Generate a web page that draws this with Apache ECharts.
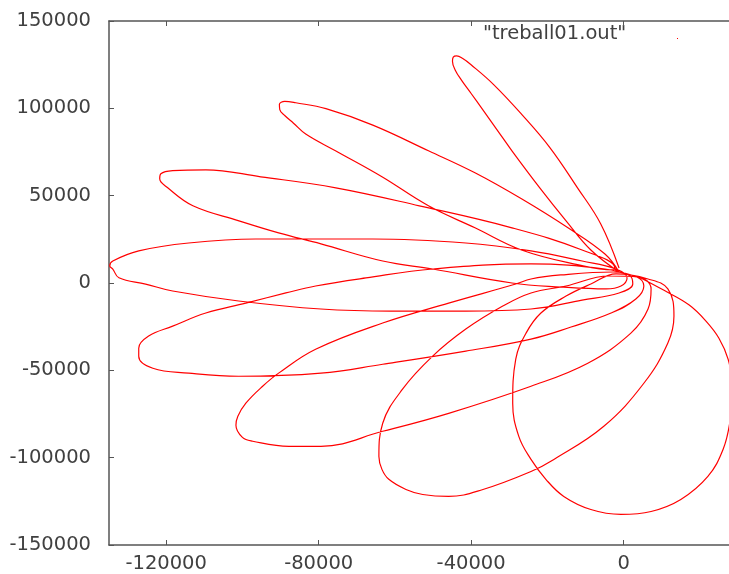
<!DOCTYPE html>
<html>
<head>
<meta charset="utf-8">
<script src="https://cdn.jsdelivr.net/npm/echarts@6/dist/echarts.min.js"></script>
<style>
	html, body { margin: 0; padding: 0; background: #fff; }
	#chart { width: 729px; height: 574px; }
</style>
</head>
<body>
<div id="chart"></div>
<script>
// 刻度
var xTicks = [-120000, -80000, -40000, 0]
var seriesName = '"treball01.out"'

// 轨道的每一瓣 [x, y]
var petal1 = [[-1200, 8600], [-6000, 33800], [-12100, 54500], [-19400, 77700], [-26800, 96700], [-34100, 113600], [-40100, 125100], [-42200, 128500], [-43800, 130000], [-44700, 129300], [-44900, 127000], [-44200, 122000], [-42500, 116000], [-40000, 108500], [-37200, 100000], [-33300, 88000], [-29300, 75700], [-22000, 54500], [-15100, 35600], [-8600, 18900], [-1200, 6300]]
var petal2 = [[-4900, 16600], [-14600, 31600], [-26800, 48200], [-39000, 63100], [-51200, 75700], [-65800, 90400], [-78100, 99800], [-86000, 103200], [-88900, 104000], [-90300, 102300], [-90200, 99300], [-88900, 95900], [-86600, 91500], [-83400, 85300], [-75600, 75700], [-63400, 60800], [-51200, 44200], [-39000, 31600], [-26800, 18900], [-12100, 10500], [-2800, 7500]]
var petal3 = [[-2300, 8600], [-10900, 18900], [-29300, 31600], [-53600, 44200], [-75500, 54500], [-95200, 60800], [-109600, 64800], [-118300, 64300], [-121400, 62500], [-121700, 59700], [-119600, 54500], [-113000, 44200], [-100900, 35600], [-90500, 28700], [-79400, 22400], [-63200, 12600], [-50100, 8000], [-29300, 0], [-16500, -2300], [-4600, -3400], [-700, -1700], [900, 2900]]
var petal4 = [[-2000, 8000], [-10900, 12600], [-24300, 18400], [-41400, 22900], [-65800, 25200], [-84200, 25200], [-96500, 25200], [-114100, 22900], [-127200, 18400], [-134000, 12600], [-134800, 9800], [-134000, 8000], [-132400, 3000], [-125400, -600], [-118300, -4600], [-101000, -10300], [-79400, -14900], [-61000, -16100], [-41400, -16100], [-24300, -14900], [-10900, -9800], [-1200, -5700], [2400, -600], [1700, 4000]]
var petal5 = [[-4900, 8000], [-24300, 10900], [-50100, 8000], [-67600, 2900], [-80800, -1700], [-88600, -5700], [-99100, -11500], [-109600, -17200], [-118300, -24700], [-124600, -30400], [-127200, -37300], [-127200, -41900], [-123500, -48800], [-114100, -51600], [-101000, -53400], [-79400, -51600], [-63200, -46500], [-41400, -39000], [-24300, -32100], [-13800, -25200], [-3300, -17200], [3200, -9200], [5300, -1700], [3500, 3400]]
var petal6 = [[-2800, 6300], [-16500, 4600], [-24300, 2300], [-28300, -600], [-45900, -11500], [-63200, -22900], [-80800, -37900], [-90500, -51600], [-94700, -59100], [-99100, -68800], [-101200, -76300], [-101700, -81500], [-100000, -88400], [-97300, -90600], [-87800, -93500], [-79400, -93500], [-63200, -84900], [-45900, -74600], [-24300, -59100], [-9400, -45900], [1900, -28700], [6400, -14900], [7200, -3400], [4000, 3400]]
var petal7 = [[-3900, 4000], [-15100, -1700], [-24300, -5700], [-31700, -13200], [-41400, -26400], [-50100, -41900], [-58000, -60800], [-63200, -80300], [-64200, -99300], [-63400, -106700], [-61600, -112400], [-57100, -118200], [-52700, -121100], [-45900, -122200], [-36900, -118200], [-24300, -107900], [-18300, -101000], [-5200, -82000], [5300, -57400], [11600, -34400], [13200, -18900], [11600, -3400], [6400, 2300]]
var petal8 = [[-2000, 5200], [-8600, -600], [-15100, -7500], [-21700, -17200], [-25600, -28700], [-28300, -43600], [-29100, -68800], [-27500, -87800], [-24300, -101000], [-20400, -112400], [-15700, -122200], [-8600, -129700], [-700, -132500], [7200, -130800], [15000, -123900], [22100, -110700], [26100, -95200], [27900, -79200], [28600, -59100], [27400, -43600], [25000, -31600], [21600, -21800], [17200, -12600], [10600, -4200], [4500, 2900]]

var orbit = [].concat(petal1, petal2, petal3, petal4, petal5, petal6, petal7, petal8)

var font = 'DejaVu Sans'
var textColor = '#404040'
var axisColor = '#555'

var myChart = echarts.init(document.getElementById('chart'))
myChart.setOption({
	animation: false,
	grid: { left: 109, top: 21, width: 629, height: 524, containLabel: false, outerBoundsMode: 'none' },
	xAxis: [
		{
			type: 'value',
			position: 'bottom',
			min: -135000,
			max: 30000,
			splitLine: { show: false },
			axisLine: { onZero: false, lineStyle: { color: axisColor, width: 1.5 } },
			axisTick: { inside: true, length: 5, customValues: xTicks, lineStyle: { color: axisColor } },
			axisLabel: {
				customValues: xTicks,
				margin: 9,
				fontSize: 19.5,
				fontFamily: font,
				color: textColor,
				formatter: function (v) { return String(v) }
			}
		},
		{
			type: 'value',
			position: 'top',
			min: -135000,
			max: 30000,
			splitLine: { show: false },
			axisLine: { onZero: false, lineStyle: { color: axisColor, width: 1.5 } },
			axisTick: { inside: true, length: 5, customValues: xTicks, lineStyle: { color: axisColor } },
			axisLabel: { show: false }
		}
	],
	yAxis: {
		type: 'value',
		min: -150000,
		max: 150000,
		interval: 50000,
		splitLine: { show: false },
		axisLine: { onZero: false, lineStyle: { color: axisColor, width: 1.5 } },
		axisTick: { inside: true, length: 5, lineStyle: { color: axisColor } },
		axisLabel: {
			margin: 18,
			fontSize: 19.5,
			fontFamily: font,
			color: textColor,
			formatter: function (v) { return String(v) }
		}
	},
	graphic: [
		{
			type: 'text',
			left: 483,
			top: 24,
			style: { text: seriesName, font: '19.5px "DejaVu Sans"', fill: textColor }
		},
		{
			type: 'rect',
			shape: { x: 677, y: 38, width: 1, height: 1 },
			style: { fill: '#ff0000' }
		}
	],
	series: [
		{
			name: seriesName,
			type: 'line',
			data: orbit,
			showSymbol: false,
			smooth: 0.4,
			lineStyle: { color: '#ff0000', width: 1.2 }
		}
	]
})
</script>
</body>
</html>
